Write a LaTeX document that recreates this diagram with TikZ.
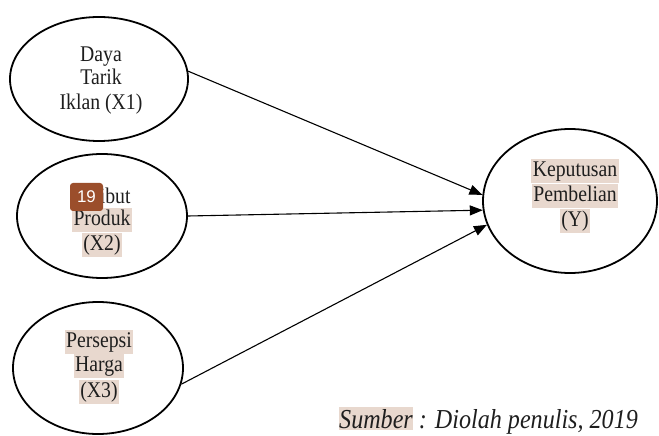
\documentclass[tikz,border=0pt]{standalone}
\usepackage{fontspec}
\setmainfont{Liberation Serif}[FakeStretch=0.88]
\newfontfamily\badgefont{Liberation Sans}
\usetikzlibrary{shapes.geometric,arrows.meta}
\definecolor{hlc}{RGB}{232,216,206}
\definecolor{badgec}{RGB}{155,78,43}
\definecolor{ink}{RGB}{30,30,30}
\begin{document}
\begin{tikzpicture}[x=1bp,y=-1bp,
  oval/.style={draw=black,line width=1.8bp,ellipse,inner sep=0pt},
  txt/.style={font=\fontsize{22.5}{24}\selectfont,text=ink,inner sep=1.5bp,text height=16bp,text depth=5bp},
  hltxt/.style={txt,fill=hlc},
  conn/.style={draw=black,line width=1.1bp,-{Triangle[length=13bp,width=10bp]}}]
\useasboundingbox (0,0) rectangle (659,436);
% ellipses
\node[oval,minimum width=178bp,minimum height=124bp] (e1) at (99,79) {};
\node[oval,minimum width=170bp,minimum height=124bp] (e2) at (102,216) {};
\node[oval,minimum width=170bp,minimum height=132bp] (e3) at (98,368) {};
\node[oval,minimum width=174bp,minimum height=144bp] (y) at (570,201) {};
% texts
\node[txt] (t11) at (101,56.5) {Daya};
\node[txt] (t12) at (101,79.5) {Tarik};
\node[txt] (t13) at (101,104) {Iklan (X1)};
\node[txt] (t21) at (102,198) {Atribut};
\node[hltxt] (t22) at (102,220.5) {Produk};
\node[hltxt] (t23) at (102,245) {(X2)};
\node[hltxt] (t31) at (99,342) {Persepsi};
\node[hltxt] (t32) at (99,366) {Harga};
\node[hltxt] (t33) at (99,391.5) {(X3)};
\node[hltxt] (ty1) at (575,171.5) {Keputusan};
\node[hltxt] (ty2) at (575,196) {Pembelian};
\node[hltxt] (ty3) at (575,221.5) {(Y)};
% badge
\node[fill=badgec,rounded corners=3bp,minimum width=33bp,minimum height=28bp,inner sep=0pt,text=white,font=\badgefont\fontsize{17}{17}\selectfont] (badge) at (86.5,197) {19};
% connectors
\draw[conn] (e1.5) -- (y.176);
\draw[conn] (e2.east) -- (y.186);
\draw[conn] (e3.-11) -- (y.196);
% caption
\node[font=\fontsize{27.5}{28}\selectfont\itshape\setlength{\fboxsep}{1.5bp},text=ink,inner sep=0pt,anchor=base west] (cap) at (339,428) {\colorbox{hlc}{\hspace{-\fboxsep}Sumber\hspace{-\fboxsep}} : Diolah penulis, 2019};
\end{tikzpicture}
\end{document}
